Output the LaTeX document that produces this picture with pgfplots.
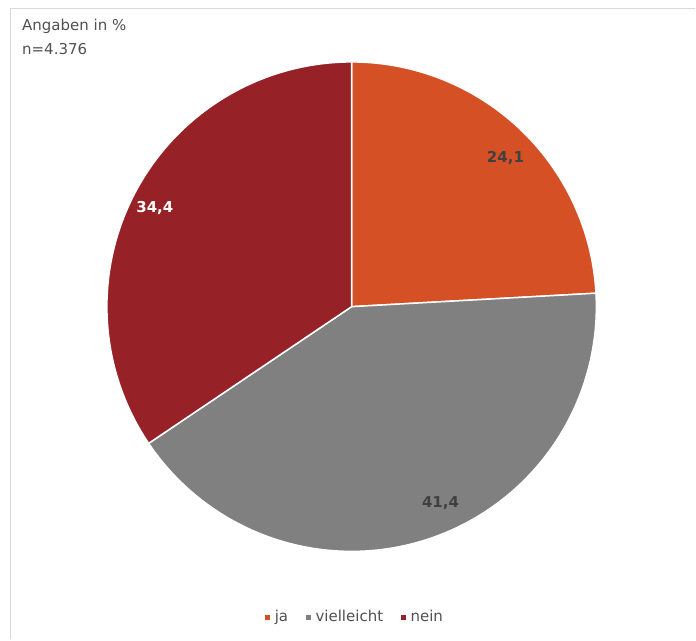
\documentclass[border=0pt]{standalone}
\usepackage{pgfplots}
\pgfplotsset{compat=1.18}
\usepackage{fontspec}
\setmainfont{DejaVu Sans}
\definecolor{cJa}{RGB}{214,80,38}
\definecolor{cVi}{RGB}{128,128,128}
\definecolor{cNe}{RGB}{150,34,40}
\definecolor{cTxt}{RGB}{80,80,80}
\definecolor{cLbl}{RGB}{64,64,64}
\definecolor{cFrame}{RGB}{217,217,217}
% values (percent)
\def\vJa{24.1}
\def\vVi{41.4}
\def\vNe{34.4}
\pgfmathsetmacro\tot{\vJa+\vVi+\vNe}
\pgfmathsetmacro\aA{90}
\pgfmathsetmacro\aB{\aA-\vJa/\tot*360}
\pgfmathsetmacro\aC{\aB-\vVi/\tot*360}
\pgfmathsetmacro\aD{\aC-\vNe/\tot*360}
\def\cx{352}\def\cy{333}\def\rr{245}
\begin{document}
\fontsize{15bp}{18bp}\selectfont
\begin{tikzpicture}
\begin{axis}[
  hide axis, scale only axis,
  width=696bp, height=640bp,
  xmin=0, xmax=696, ymin=0, ymax=640,
  clip=false,
  legend columns=3,
  legend image code/.code={\fill[#1] (0bp,-3.5bp) rectangle (7bp,3.5bp);},
  legend style={at={(axis cs:355,22)}, anchor=center, draw=none, fill=none,
    font=\fontsize{15bp}{18bp}\selectfont\color{cTxt},
    nodes={inner sep=3bp},
    /tikz/every even column/.append style={column sep=13bp}},
]
\path (rel axis cs:0,0) rectangle (rel axis cs:1,1);
\draw[cFrame, line width=1.5bp] (axis cs:10.5,0) -- (axis cs:10.5,631.5) -- (axis cs:696,631.5);
\addplot[fill=cJa, draw=white, line width=1.5bp, domain=\aB:\aA, samples=100]
  ({\cx+\rr*cos(x)},{\cy+\rr*sin(x)}) -- (axis cs:\cx,\cy) -- cycle;
\addlegendentry{ja}
\addplot[fill=cVi, draw=white, line width=1.5bp, domain=\aC:\aB, samples=150]
  ({\cx+\rr*cos(x)},{\cy+\rr*sin(x)}) -- (axis cs:\cx,\cy) -- cycle;
\addlegendentry{vielleicht}
\addplot[fill=cNe, draw=white, line width=1.5bp, domain=\aD:\aC, samples=130]
  ({\cx+\rr*cos(x)},{\cy+\rr*sin(x)}) -- (axis cs:\cx,\cy) -- cycle;
\addlegendentry{nein}
\node[font=\bfseries, text=cLbl] at (axis cs:506,482) {24,1};
\node[font=\bfseries, text=cLbl] at (axis cs:441,136) {41,4};
\node[font=\bfseries, text=white] at (axis cs:155,432) {34,4};
\node[anchor=base west, text=cTxt, inner sep=0pt] at (axis cs:22,609.5) {Angaben in \%};
\node[anchor=base west, text=cTxt, inner sep=0pt] at (axis cs:22,585) {n=4.376};
\end{axis}
\end{tikzpicture}
\end{document}
